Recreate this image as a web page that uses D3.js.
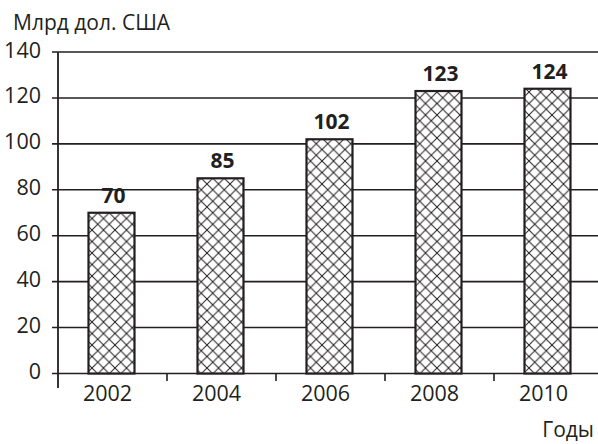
<!DOCTYPE html>
<html>
<head>
<meta charset="utf-8">
<script src="https://cdn.jsdelivr.net/npm/d3@7"></script>
<style>
  body { margin: 0; background: #fff; }
  text { font-family: "Open Sans", sans-serif; fill: #231f20; }
</style>
</head>
<body>
<div id="chart"></div>
<script>
// chart data
const years = ["2002", "2004", "2006", "2008", "2010"];
const values = [70, 85, 102, 123, 124];
const yTicks = [0, 20, 40, 60, 80, 100, 120, 140];
const yTitle = "Млрд дол. США";
const xTitle = "Годы";

const W = 598, H = 444;
const ink = "#231f20";

const svg = d3.select("#chart")
    .append("svg")
    .attr("width", W)
    .attr("height", H);

// hatch pattern for the bars
const pat = svg.append("defs").append("pattern")
    .attr("id", "hatch")
    .attr("patternUnits", "userSpaceOnUse")
    .attr("width", 11.5)
    .attr("height", 11.5);
pat.append("rect").attr("width", 11.5).attr("height", 11.5).attr("fill", "#fff");
pat.append("path")
    .attr("d", "M0,0L11.5,11.5M11.5,0L0,11.5M-1,10.5L1,12.5M10.5,-1L12.5,1")
    .attr("stroke", ink)
    .attr("stroke-width", 1);

const x = d3.scaleBand().domain(years).range([58, 603]);
const y = d3.scaleLinear().domain([0, 140]).range([373.5, 52]);

// gridlines + left ticks
svg.append("g").selectAll("line")
    .data(yTicks)
    .join("line")
    .attr("x1", 52).attr("x2", W)
    .attr("y1", d => y(d)).attr("y2", d => y(d))
    .attr("stroke", ink)
    .attr("stroke-width", 1.6);

// y tick labels
svg.append("g").selectAll("text")
    .data(yTicks)
    .join("text")
    .attr("x", 41)
    .attr("y", d => y(d) + 5.5)
    .attr("text-anchor", "end")
    .attr("font-size", 21.5)
    .text(d => d);

// y axis line
svg.append("line")
    .attr("x1", 58).attr("x2", 58)
    .attr("y1", y(140)).attr("y2", 388)
    .attr("stroke", ink).attr("stroke-width", 1.8);

// x ticks between categories
svg.append("g").selectAll("line")
    .data(years.slice(1))
    .join("line")
    .attr("x1", d => x(d)).attr("x2", d => x(d))
    .attr("y1", y(0)).attr("y2", y(0) + 7.5)
    .attr("stroke", ink).attr("stroke-width", 1.6);

// bars
const barW = 46;
svg.append("g").selectAll("rect")
    .data(values)
    .join("rect")
    .attr("x", (d, i) => x(years[i]) + x.bandwidth() / 2 - barW / 2 - 1)
    .attr("y", d => y(d))
    .attr("width", barW)
    .attr("height", d => y(0) - y(d))
    .attr("fill", "url(#hatch)")
    .attr("stroke", ink)
    .attr("stroke-width", 2.2);

// value labels
svg.append("g").selectAll("text")
    .data(values)
    .join("text")
    .attr("x", (d, i) => x(years[i]) + x.bandwidth() / 2 + 1)
    .attr("y", d => y(d) - 10)
    .attr("text-anchor", "middle")
    .attr("font-size", 21)
    .attr("font-weight", "bold")
    .text(d => d);

// year labels
svg.append("g").selectAll("text")
    .data(years)
    .join("text")
    .attr("x", d => x(d) + x.bandwidth() / 2 - 5)
    .attr("y", 401)
    .attr("text-anchor", "middle")
    .attr("font-size", 21.5)
    .text(d => d);

// titles
svg.append("text")
    .attr("x", 13).attr("y", 30)
    .attr("font-size", 21)
    .text(yTitle);

svg.append("text")
    .attr("x", 594).attr("y", 437)
    .attr("text-anchor", "end")
    .attr("font-size", 21)
    .text(xTitle);
</script>
</body>
</html>
